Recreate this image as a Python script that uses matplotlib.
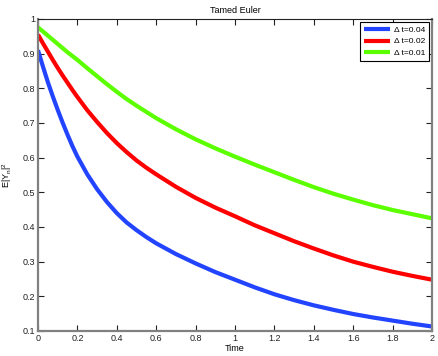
import matplotlib
matplotlib.use("Agg")
import matplotlib.pyplot as plt
from matplotlib.ticker import FuncFormatter

t = [0.0, 0.025, 0.05, 0.075, 0.1, 0.125, 0.15, 0.175, 0.2, 0.25, 0.3, 0.35, 0.4, 0.45,
     0.5, 0.55, 0.6, 0.7, 0.8, 0.9, 1.0, 1.1, 1.2, 1.3, 1.4, 1.5, 1.6, 1.7, 1.8, 1.9, 2.0]
blue_vals = [0.91, 0.863, 0.818, 0.777, 0.738, 0.701, 0.666, 0.633, 0.603, 0.552, 0.509, 0.472,
             0.44, 0.413, 0.391, 0.371, 0.353, 0.322, 0.295, 0.27, 0.248,
             0.226, 0.206, 0.189, 0.174, 0.161, 0.149, 0.139, 0.13, 0.121, 0.113]
red_vals = [0.955, 0.93, 0.906, 0.882, 0.859, 0.837, 0.816, 0.795, 0.775, 0.737, 0.703, 0.671,
            0.642, 0.616, 0.592, 0.571, 0.552, 0.516, 0.484, 0.456, 0.431,
            0.405, 0.382, 0.359, 0.338, 0.318, 0.30, 0.285, 0.271, 0.259, 0.248]
green_vals = [0.976, 0.964, 0.952, 0.94, 0.928, 0.916, 0.904, 0.893, 0.882, 0.858, 0.835, 0.812,
              0.79, 0.769, 0.75, 0.732, 0.714, 0.682, 0.653, 0.627, 0.603,
              0.58, 0.558, 0.536, 0.515, 0.496, 0.479, 0.463, 0.449, 0.437, 0.425]
labels = ["\u0394 t=0.04", "\u0394 t=0.02", "\u0394 t=0.01"]
colors = ["#2244ff", "#ff0000", "#5cff00"]
xticks = [0, 0.2, 0.4, 0.6, 0.8, 1.0, 1.2, 1.4, 1.6, 1.8, 2.0]
yticks = [0.1, 0.2, 0.3, 0.4, 0.5, 0.6, 0.7, 0.8, 0.9, 1.0]

plt.rcParams['font.family'] = ['Liberation Sans', 'DejaVu Sans']
plt.rcParams['mathtext.default'] = 'regular'

fig = plt.figure(figsize=(4.39, 3.56), dpi=100)
ax = fig.add_axes([38/439, 1-331/356, (432-38)/439, (331-19)/356])

for vals, lab, c in zip([blue_vals, red_vals, green_vals], labels, colors):
    ax.plot(t, vals, color=c, lw=3, label=lab, solid_capstyle='butt', solid_joinstyle='round')

ax.set_xlim(0, 2)
ax.set_ylim(0.1, 1)
ax.set_xticks(xticks)
ax.set_yticks(yticks)
fmt = FuncFormatter(lambda v, p: ('%g' % round(v, 2)))
ax.xaxis.set_major_formatter(fmt)
ax.yaxis.set_major_formatter(fmt)
ax.tick_params(direction='in', length=4, width=0.8, labelsize=6.5, colors='#222222',
               top=True, right=True, pad=2)
for side in ['left', 'bottom', 'right']:
    ax.spines[side].set_color('#808080')
    ax.spines[side].set_linewidth(1.6)
ax.spines['top'].set_color('#222222')
ax.spines['top'].set_linewidth(0.8)

ax.set_title('Tamed Euler', fontsize=6.5, pad=4)
ax.set_xlabel('Time', fontsize=6.5, labelpad=1)
ax.set_ylabel('E|Y$_n$|$^2$', fontsize=6.5, labelpad=6)

leg = ax.legend(loc='upper right', fontsize=6, handlelength=3.2, fancybox=False,
                framealpha=1, edgecolor='black', borderpad=0.45, labelspacing=0.45,
                handletextpad=0.4, borderaxespad=0.4)
leg.get_frame().set_linewidth(0.8)

fig.savefig('out.png', dpi=100)
